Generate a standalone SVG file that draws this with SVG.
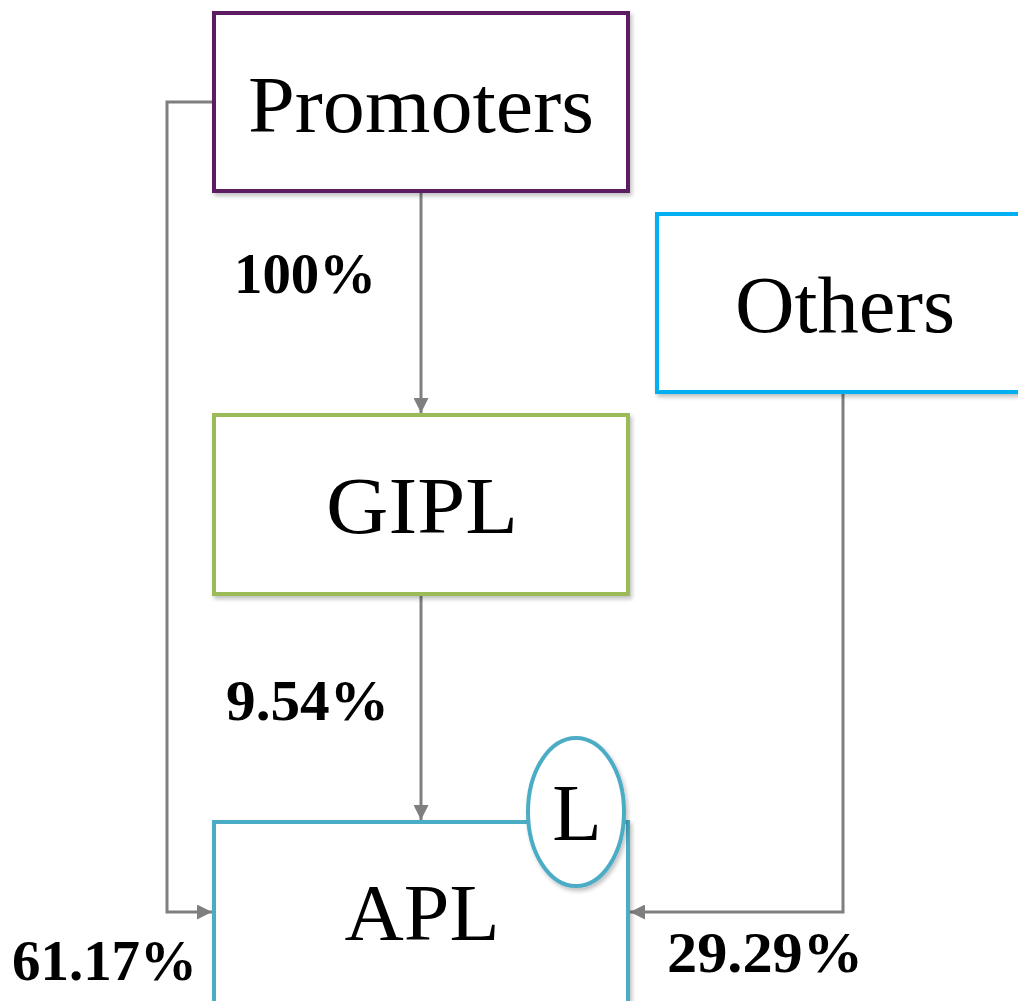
<svg xmlns="http://www.w3.org/2000/svg" width="1018" height="1001" viewBox="0 0 1018 1001">
  <defs>
    <filter id="shadow" x="-10%" y="-10%" width="130%" height="130%">
      <feGaussianBlur in="SourceAlpha" stdDeviation="2"/>
      <feOffset dx="2" dy="3" result="b"/>
      <feComponentTransfer><feFuncA type="linear" slope="0.25"/></feComponentTransfer>
      <feMerge><feMergeNode/><feMergeNode in="SourceGraphic"/></feMerge>
    </filter>
    <marker id="arrow" viewBox="0 0 10 10" refX="10" refY="5" markerWidth="5" markerHeight="5" markerUnits="strokeWidth" orient="auto">
      <path d="M0,0 L10,5 L0,10 Z" fill="#7f7f7f"/>
    </marker>
  </defs>
  <style>
    .box { fill: #ffffff; stroke-width: 4; }
    .name { font-family: "Liberation Serif", "Times New Roman", serif; font-size: 81px; fill: #000; text-anchor: middle; }
    .pct { font-family: "Liberation Serif", "Times New Roman", serif; font-size: 56px; font-weight: bold; fill: #000; }
    .link { fill: none; stroke: #7f7f7f; stroke-width: 3; marker-end: url(#arrow); }
  </style>
  <rect width="1018" height="1001" fill="#ffffff"/>

  <g id="connectors">
    <path class="link" d="M421,191 V413"/>
    <path class="link" d="M421,594 V820"/>
    <path class="link" d="M214,102 H167 V912 H212"/>
    <path class="link" d="M843,392 V912 H630"/>
  </g>

  <g id="promoters" filter="url(#shadow)">
    <rect class="box" x="214" y="13" width="414" height="178" stroke="#5c1f62"/>
    <text class="name" x="421" y="132" textLength="346" lengthAdjust="spacingAndGlyphs">Promoters</text>
  </g>

  <g id="others" filter="url(#shadow)">
    <rect class="box" x="657" y="214" width="380" height="178" stroke="#00b0f0"/>
    <text class="name" x="845" y="332" textLength="220" lengthAdjust="spacingAndGlyphs">Others</text>
  </g>

  <g id="gipl" filter="url(#shadow)">
    <rect class="box" x="214" y="415" width="414" height="179" stroke="#9bbb59"/>
    <text class="name" x="422" y="533" textLength="192" lengthAdjust="spacingAndGlyphs">GIPL</text>
  </g>

  <g id="apl" filter="url(#shadow)">
    <rect class="box" x="214" y="822" width="414" height="200" stroke="#4bacc6"/>
    <text class="name" x="422" y="940" textLength="155" lengthAdjust="spacingAndGlyphs">APL</text>
  </g>

  <g id="listed" filter="url(#shadow)">
    <ellipse cx="576" cy="812" rx="48" ry="74" fill="#ffffff" stroke="#4bacc6" stroke-width="4"/>
    <text class="name" x="577" y="840">L</text>
  </g>

  <g id="labels">
    <text class="pct" x="234" y="293" textLength="142" lengthAdjust="spacingAndGlyphs">100%</text>
    <text class="pct" x="226" y="720" textLength="163" lengthAdjust="spacingAndGlyphs">9.54%</text>
    <text class="pct" x="12" y="980" textLength="185" lengthAdjust="spacingAndGlyphs">61.17%</text>
    <text class="pct" x="667" y="972" textLength="196" lengthAdjust="spacingAndGlyphs">29.29%</text>
  </g>
</svg>
